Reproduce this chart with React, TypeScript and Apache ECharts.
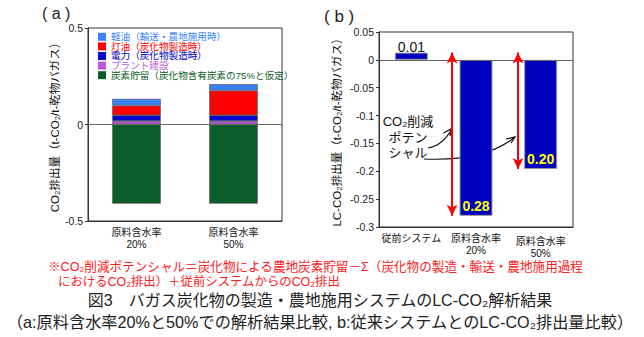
import React, { useEffect, useRef } from 'react';
import * as echarts from 'echarts';

// ---- Chart (a) data ----
const categoriesA = ['原料含水率\n20%', '原料含水率\n50%'];
const keiyu = [0.035, 0.033]; // 軽油（輸送・農地施用時）
const touyu = [0.05, 0.128]; // 灯油（炭化物製造時）
const denryoku = [0.031, 0.031]; // 電力（炭化物製造時）
const plant = [0.017, 0.017]; // プラント建設
const tansoChoryu = [-0.41, -0.41]; // 炭素貯留
const namesA = [
  '軽油（輸送・農地施用時）',
  '灯油（炭化物製造時）',
  '電力（炭化物製造時）',
  'プラント建設',
  '炭素貯留（炭化物含有炭素の75%と仮定）',
];
const colorsA = ['#3a82f7', '#ff0000', '#0000cc', '#bb55dd', '#0b5e2b'];
const legendTextColorsA = ['#3a82f7', '#ff0000', '#0000cc', '#c060e0', '#0b5e2b'];

// ---- Chart (b) data ----
const categoriesB = ['従前システム', '原料含水率\n20%', '原料含水率\n50%'];
const lcco2 = [0.013, -0.28, -0.196];
const arrowX = [0.63, 1.65]; // category-unit positions of the reduction arrows

const FF = '"Liberation Sans", "Noto Sans CJK JP", sans-serif';

export default function App() {
  const ref = useRef<HTMLDivElement>(null);
  useEffect(() => {
    if (!ref.current) return;
    const chart = echarts.init(ref.current, undefined, { renderer: 'svg' });
    const barBorder = { borderColor: '#555', borderWidth: 0.7 };
    const stackSeries = [
      { name: namesA[3], data: plant, color: colorsA[3] },
      { name: namesA[2], data: denryoku, color: colorsA[2] },
      { name: namesA[1], data: touyu, color: colorsA[1] },
      { name: namesA[0], data: keiyu, color: colorsA[0] },
      { name: namesA[4], data: tansoChoryu, color: colorsA[4] },
    ].map((s, i) => ({
      type: 'bar',
      name: s.name,
      xAxisIndex: 0,
      yAxisIndex: 0,
      stack: 'a',
      barWidth: '50%',
      data: s.data,
      itemStyle: { color: s.color, ...barBorder },
      ...(i === 4
        ? {
            markLine: {
              silent: true,
              symbol: 'none',
              label: { show: false },
              lineStyle: { color: '#666', width: 1, type: 'solid' },
              data: [{ yAxis: 0 }],
            },
          }
        : {}),
    }));

    const option: any = {
      animation: false,
      textStyle: { fontFamily: FF },
      grid: [
        { left: 88, top: 28, width: 194, height: 193, show: true, borderColor: '#333', borderWidth: 1, backgroundColor: 'transparent' },
        { left: 379, top: 32, width: 194, height: 195, show: true, borderColor: '#333', borderWidth: 1, backgroundColor: 'transparent' },
      ],
      legend: {
        orient: 'vertical',
        left: 98,
        top: 32,
        padding: 0,
        itemGap: 0,
        itemWidth: 8,
        itemHeight: 8,
        icon: 'rect',
        itemStyle: { borderWidth: 0 },
        textStyle: { fontSize: 9.6, lineHeight: 8.4, fontFamily: FF },
        data: namesA.map((n, i) => ({ name: n, textStyle: { color: legendTextColorsA[i] } })),
      },
      xAxis: [
        {
          type: 'category',
          gridIndex: 0,
          data: categoriesA,
          axisLine: { onZero: false, lineStyle: { color: '#333' } },
          axisTick: { inside: true, length: 4, lineStyle: { color: '#333' } },
          axisLabel: { interval: 0, fontSize: 10, lineHeight: 12, margin: 5, color: '#111', fontFamily: FF },
        },
        {
          type: 'category',
          gridIndex: 1,
          data: [
            categoriesB[0],
            categoriesB[1],
            { value: categoriesB[2], textStyle: { padding: [3, 0, 0, 0] } },
          ],
          axisLine: { onZero: false, lineStyle: { color: '#333' } },
          axisTick: { inside: true, length: 4, lineStyle: { color: '#333' } },
          axisLabel: { interval: 0, fontSize: 10, lineHeight: 11.5, margin: 6, color: '#111', fontFamily: FF },
        },
        { type: 'value', gridIndex: 1, min: -0.5, max: 2.5, show: false, position: 'top' },
      ],
      yAxis: [
        {
          type: 'value',
          gridIndex: 0,
          min: -0.5,
          max: 0.5,
          interval: 0.5,
          splitLine: { show: false },
          axisLine: { show: true, onZero: false, lineStyle: { color: '#333' } },
          axisTick: { show: true, length: 3, lineStyle: { color: '#333' } },
          axisLabel: { fontSize: 10.5, margin: 5, color: '#222', fontFamily: FF },
          name: 'CO₂排出量（t-CO₂/t-乾物バガス）',
          nameLocation: 'middle',
          nameGap: 22,
          nameTextStyle: { fontSize: 11.5, color: '#111', fontFamily: FF },
        },
        {
          type: 'value',
          gridIndex: 1,
          min: -0.3,
          max: 0.05,
          interval: 0.05,
          splitLine: { show: false },
          axisLine: { show: true, onZero: false, lineStyle: { color: '#333' } },
          axisTick: { show: true, length: 3, lineStyle: { color: '#333' } },
          axisLabel: {
            fontSize: 10.5,
            margin: 5,
            color: '#222',
            fontFamily: FF,
            formatter: (v: number) => String(Math.round(v * 100) / 100),
          },
          name: 'LC-CO₂排出量（t-CO₂/t-乾物バガス）',
          nameLocation: 'middle',
          nameGap: 36,
          nameTextStyle: { fontSize: 11.5, color: '#111', fontFamily: FF },
        },
      ],
      series: [
        ...stackSeries,
        {
          type: 'bar',
          name: 'LC-CO2',
          xAxisIndex: 1,
          yAxisIndex: 1,
          barWidth: '51%',
          itemStyle: { color: '#0000c0', borderColor: '#999', borderWidth: 1 },
          data: lcco2.map((v) => ({
            value: v,
            label:
              v >= 0
                ? { show: true, position: 'top', distance: -1, color: '#111', fontSize: 14, fontFamily: FF }
                : {
                    show: true,
                    position: 'insideBottom',
                    distance: 3,
                    color: '#ffff00',
                    fontSize: 14,
                    fontWeight: 'bold',
                    fontFamily: FF,
                  },
          })),
          label: { formatter: (p: any) => Math.abs(p.value).toFixed(2) },
          markLine: {
            silent: true,
            symbol: 'none',
            label: { show: false },
            lineStyle: { color: '#666', width: 1, type: 'solid' },
            data: [{ yAxis: 0 }],
          },
        },
        {
          type: 'line',
          name: 'arrows',
          xAxisIndex: 2,
          yAxisIndex: 1,
          data: [],
          markLine: {
            silent: true,
            symbol: ['arrow', 'arrow'],
            symbolSize: [8, 11],
            label: { show: false },
            lineStyle: { color: '#ff0000', width: 2, type: 'solid' },
            data: arrowX.map((x, i) => [
              { coord: [x, lcco2[0]] },
              { coord: [x, lcco2[i + 1]] },
            ]),
          },
        },
      ],
      graphic: [
        { type: 'text', x: 42, y: 13, style: { text: '( a )', fontSize: 16, fill: '#222', textVerticalAlign: 'middle', fontFamily: FF } },
        { type: 'text', x: 324, y: 16, style: { text: '( b )', fontSize: 17, fill: '#222', textVerticalAlign: 'middle', fontFamily: FF } },
        {
          type: 'text',
          x: 408,
          y: 137,
          style: {
            text: 'CO₂削減\nポテン\nシャル',
            fontSize: 13,
            lineHeight: 15.5,
            fill: '#111',
            textAlign: 'center',
            textVerticalAlign: 'middle',
            fontFamily: FF,
          },
        },
        {
          type: 'bezierCurve',
          shape: { x1: 428, y1: 148, x2: 452, y2: 128.5, cpx1: 440, cpy1: 146, cpx2: 447, cpy2: 138 },
          style: { stroke: '#111', lineWidth: 1.2, fill: 'none' },
        },
        {
          type: 'polyline',
          shape: { points: [[443.5, 133], [452, 128.5], [450, 136]] },
          style: { stroke: '#111', lineWidth: 1.2, fill: 'none' },
        },
        {
          type: 'bezierCurve',
          shape: { x1: 424, y1: 159, x2: 515, y2: 137, cpx1: 470, cpy1: 161, cpx2: 498, cpy2: 151 },
          style: { stroke: '#111', lineWidth: 1.2, fill: 'none' },
        },
        {
          type: 'polyline',
          shape: { points: [[506, 139], [515, 137], [511, 143]] },
          style: { stroke: '#111', lineWidth: 1.2, fill: 'none' },
        },
        {
          type: 'text',
          x: 48,
          y: 267,
          style: {
            text: '※CO₂削減ポテンシャル＝炭化物による農地炭素貯留－Σ（炭化物の製造・輸送・農地施用過程',
            fontSize: 12.6,
            fill: '#ff2020',
            textVerticalAlign: 'middle',
            fontFamily: FF,
          },
        },
        {
          type: 'text',
          x: 58,
          y: 282,
          style: {
            text: 'におけるCO₂排出）＋従前システムからのCO₂排出',
            fontSize: 12.4,
            fill: '#ff2020',
            textVerticalAlign: 'middle',
            fontFamily: FF,
          },
        },
        {
          type: 'text',
          x: 320,
          y: 300,
          style: {
            text: '図3　バガス炭化物の製造・農地施用システムのLC-CO₂解析結果',
            fontSize: 16,
            fill: '#222',
            textAlign: 'center',
            textVerticalAlign: 'middle',
            fontFamily: FF,
          },
        },
        {
          type: 'text',
          x: 320,
          y: 322,
          style: {
            text: '（a:原料含水率20%と50%での解析結果比較, b:従来システムとのLC-CO₂排出量比較）',
            fontSize: 16.2,
            fill: '#222',
            textAlign: 'center',
            textVerticalAlign: 'middle',
            fontFamily: FF,
          },
        },
      ],
    };
    chart.setOption(option);
    return () => chart.dispose();
  }, []);
  return <div ref={ref} style={{ position: 'fixed', left: 0, top: 0, width: 644, height: 337, background: '#fff' }} />;
}
